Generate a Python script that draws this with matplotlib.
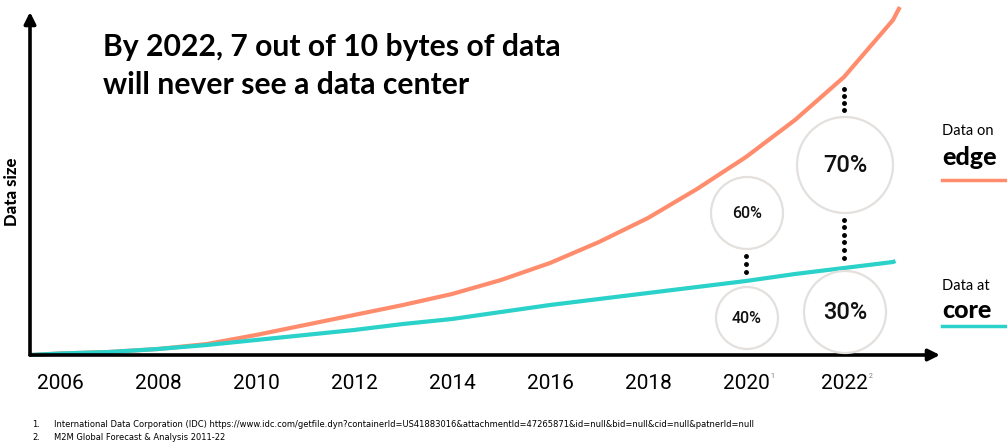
import matplotlib.pyplot as plt
from matplotlib.patches import Circle

# data (arbitrary "data size" units)
years = [2005.4, 2006, 2007, 2008, 2009, 2010, 2011, 2012, 2013, 2014,
         2015, 2016, 2017, 2018, 2019, 2020, 2021, 2022, 2023, 2023.14]
edge = [0, 1.5, 3, 6, 11, 20, 30, 40, 50, 61,
        75, 92, 113, 137, 166, 198, 235, 278, 335, 348]
core_years = [2005.4, 2006, 2007, 2008, 2009, 2010, 2011, 2012, 2013, 2014,
              2015, 2016, 2017, 2018, 2019, 2020, 2021, 2022, 2023, 2023.05]
core = [0, 1.5, 3, 6, 10, 15, 20, 25, 31, 36,
        43, 50, 56, 62, 68, 74, 81, 87, 93, 94]

tick_years = [2006, 2008, 2010, 2012, 2014, 2016, 2018, 2020, 2022]
notes = {2020: '1', 2022: '2'}

share_years = [2020, 2022]
share_edge = ['60%', '70%']
share_core = ['40%', '30%']

footnotes = [
    'International Data Corporation (IDC) https://www.idc.com/getfile.dyn?containerId=US41883016&attachmentId=47265871&id=null&bid=null&cid=null&patnerId=null',
    'M2M Global Forecast & Analysis 2011-22',
]

ORANGE = '#FF8D6D'
CYAN = '#2AD2C9'
GREY = '#E3E0DD'

W, H = 1007, 444
fig = plt.figure(figsize=(W / 100, H / 100), dpi=100)

# axes box in pixels: x 30..940, y 12..355 (from top)
ax = fig.add_axes([30 / W, (H - 355) / H, 910 / W, 343 / H])
ax.set_xlim(2006 + (30 - 60) / 49, 2006 + (940 - 60) / 49)
ax.set_ylim(0, 343)
for s in ax.spines.values():
    s.set_visible(False)
ax.set_xticks([])
ax.set_yticks([])

# axis arrows
arrow = dict(arrowstyle='-|>', lw=2.6, color='black', mutation_scale=17,
             shrinkA=0, shrinkB=0)
ax.annotate('', xy=(1, 0), xytext=(0, 0), xycoords='axes fraction', arrowprops=arrow)
ax.annotate('', xy=(0, 1), xytext=(0, 0), xycoords='axes fraction', arrowprops=arrow)

ax.plot(years, edge, color=ORANGE, lw=3, solid_capstyle='butt', clip_on=False)
ax.plot(core_years, core, color=CYAN, lw=3, solid_capstyle='butt', clip_on=False)

# year labels
for y in tick_years:
    ax.text(y, -28, str(y), ha='center', va='center', fontsize=15,
            family='Roboto', clip_on=False)
    if y in notes:
        ax.text(y + 0.5, -21, notes[y], ha='left', va='center', fontsize=5,
                color='#777777', family='Roboto', clip_on=False)

# share circles, positioned in pixels
circles = [
    (747, 213, 36, share_edge[0], 11.5),
    (747, 318, 31, share_core[0], 11.5),
    (845, 165, 48, share_edge[1], 17),
    (845, 312, 41, share_core[1], 17),
]
for cx, cy, r, lab, fs in circles:
    fig.patches.append(Circle((cx, H - cy), r, transform=None, fill=False,
                              ec=GREY, lw=1.6))
    fig.text(cx / W, 1 - cy / H, lab, ha='center', va='center', fontsize=fs,
             family='Roboto', color='#111111', weight='medium')

# dotted connectors
ax.plot([share_years[1]] * 4, [266, 259, 252, 245], 'o', color='black', ms=2.5)
ax.plot([share_years[1]] * 6, [135, 127.5, 120, 112.5, 105, 97.5], 'o', color='black', ms=2.5)
ax.plot([share_years[0]] * 3, [99, 91, 83], 'o', color='black', ms=2.5)

# title
fig.text(103 / W, 1 - 47 / H, 'By 2022, 7 out of 10 bytes of data', fontsize=21.7,
         weight='bold', family='Lato', va='center')
fig.text(103 / W, 1 - 85 / H, 'will never see a data center', fontsize=21.7,
         weight='bold', family='Lato', va='center')

fig.text(12 / W, 1 - 192 / H, 'Data size', rotation=90, fontsize=12, weight='black',
         family='Lato', ha='center', va='center')

# right-hand legend
fig.text(942 / W, 1 - 131 / H, 'Data on', fontsize=10.5, family='Lato', va='center')
fig.text(942 / W, 1 - 157 / H, 'edge', fontsize=18, weight='black', family='Lato', va='center')
fig.add_artist(plt.Line2D([942 / W, 1005 / W], [1 - 180 / H] * 2, color=ORANGE, lw=2.5))
fig.text(942 / W, 1 - 286 / H, 'Data at', fontsize=10.5, family='Lato', va='center')
fig.text(942 / W, 1 - 310 / H, 'core', fontsize=18, weight='black', family='Lato', va='center')
fig.add_artist(plt.Line2D([942 / W, 1005 / W], [1 - 326 / H] * 2, color=CYAN, lw=2.5))

# footnotes
for i, t in enumerate(footnotes):
    yy = 1 - (424 + 13 * i) / H
    fig.text(32 / W, yy, f'{i + 1}.', fontsize=6, family='DejaVu Sans', va='center')
    fig.text(54 / W, yy, t, fontsize=6, family='DejaVu Sans', va='center')

fig.savefig('out.png', dpi=100, facecolor='white')
